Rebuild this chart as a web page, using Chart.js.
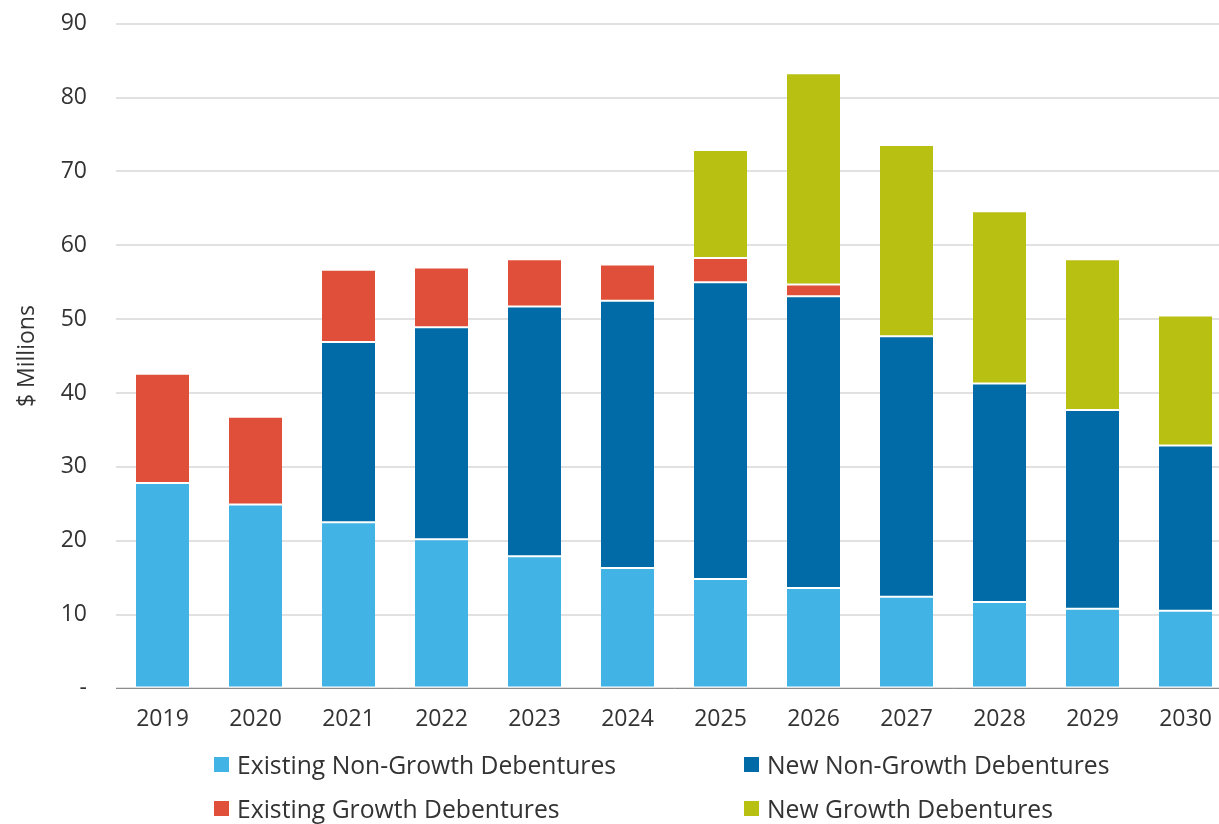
<!DOCTYPE html>
<html>
<head>
<meta charset="utf-8">
<script src="https://cdn.jsdelivr.net/npm/chart.js@4/dist/chart.umd.min.js"></script>
<style>
  html, body { margin: 0; padding: 0; background: #fff; overflow: hidden; }
  #wrap { position: absolute; left: 0; top: -19px; width: 1232px; height: 769px; }
  #legend {
    position: absolute; left: 214px; top: 750px;
    display: grid; grid-template-columns: 530px 420px; row-gap: 16px;
    font-family: "Open Sans", sans-serif; font-size: 24.7px; color: #333;
  }
  .item { display: flex; align-items: center; height: 28px; white-space: nowrap; }
  .box { width: 15px; height: 15px; margin-right: 8px; }
</style>
</head>
<body>
<div id="wrap"><canvas id="chart"></canvas></div>
<div id="legend"></div>
<script>
// Category labels (years)
const years = ['2019', '2020', '2021', '2022', '2023', '2024', '2025', '2026', '2027', '2028', '2029', '2030'];

// Series values, $ millions
const existingNonGrowth = [27.8, 24.9, 22.5, 20.2, 17.9, 16.3, 14.8, 13.6, 12.4, 11.7, 10.8, 10.5];
const newNonGrowth      = [0, 0, 24.4, 28.7, 33.8, 36.2, 40.2, 39.5, 35.3, 29.6, 26.9, 22.4];
const existingGrowth    = [14.8, 11.9, 9.8, 8.1, 6.4, 4.9, 3.3, 1.6, 0, 0, 0, 0];
const newGrowth         = [0, 0, 0, 0, 0, 0, 14.6, 28.6, 25.9, 23.3, 20.4, 17.6];

const seriesNames = ['Existing Non-Growth Debentures', 'New Non-Growth Debentures', 'Existing Growth Debentures', 'New Growth Debentures'];
const seriesColors = ['#41b4e5', '#006ba6', '#e04f39', '#b8c012'];

const yTicks = [0, 10, 20, 30, 40, 50, 60, 70, 80, 90];

const fontFamily = '"Open Sans", sans-serif';

var canvas = document.getElementById('chart');
canvas.width = 1232;
canvas.height = 769;

const seriesData = [existingNonGrowth, newNonGrowth, existingGrowth, newGrowth];

const chart = new Chart(canvas, {
  type: 'bar',
  data: {
    labels: years,
    datasets: seriesData.map(function (vals, i) {
      return {
        label: seriesNames[i],
        data: vals,
        backgroundColor: seriesColors[i],
        borderColor: '#ffffff',
        borderWidth: { top: 1, left: 0, right: 0, bottom: 1 },
        borderSkipped: false,
        categoryPercentage: 0.57,
        barPercentage: 1.0,
      };
    })
  },
  options: {
    responsive: false,
    animation: false,
    layout: { padding: { top: 0, right: 0, bottom: 0, left: 0 } },
    plugins: {
      legend: { display: false },
      tooltip: { enabled: false },
    },
    scales: {
      x: {
        stacked: true,
        grid: { display: false, drawTicks: false },
        border: { color: '#8c8c8c', width: 1 },
        ticks: { color: '#333', padding: 17, font: { family: fontFamily, size: 23 } },
      },
      y: {
        stacked: true,
        min: 0,
        max: 90,
        afterBuildTicks: function (axis) {
          axis.ticks = yTicks.map(function (v) { return { value: v }; });
        },
        afterFit: function (axis) {
          axis.width = 116;
        },
        grid: { color: '#e1e1e1', lineWidth: 2, drawTicks: false },
        border: { display: false },
        ticks: {
          color: '#333',
          padding: 29,
          font: { family: fontFamily, size: 23 },
          callback: function (value) { return value === 0 ? '-' : value; }
        },
        title: {
          display: true,
          text: '$ Millions',
          color: '#333',
          padding: { top: 14, bottom: 0 },
          font: { family: fontFamily, size: 23 }
        }
      }
    }
  }
});

// Legend in two columns like the original
var legendEl = document.getElementById('legend');
seriesNames.forEach(function (name, i) {
  var item = document.createElement('div');
  item.className = 'item';
  item.innerHTML = '<span class="box" style="background:' + seriesColors[i] + '"></span>' + name;
  legendEl.appendChild(item);
});
</script>
</body>
</html>
